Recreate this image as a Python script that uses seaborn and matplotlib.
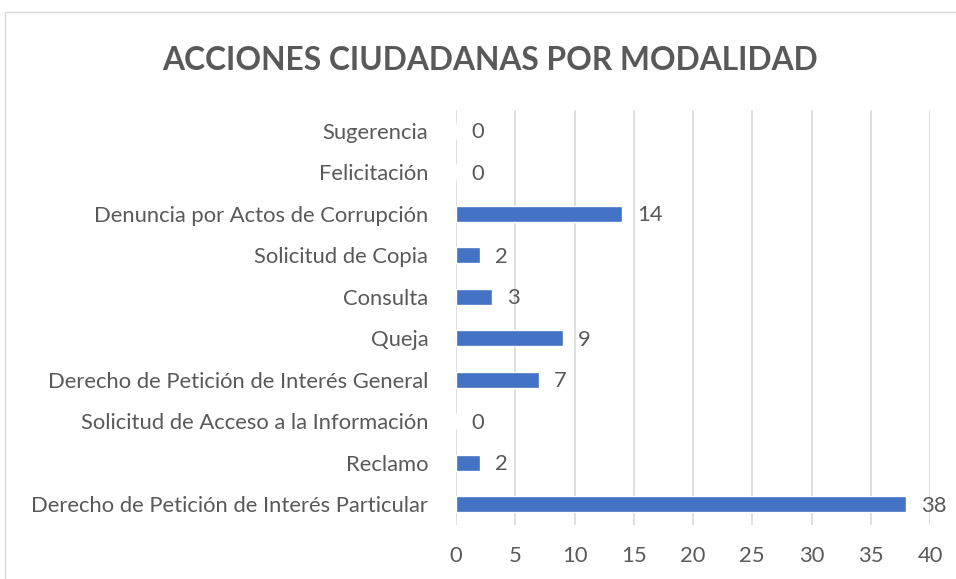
import matplotlib
matplotlib.use("Agg")
import matplotlib.pyplot as plt
import matplotlib.patches as mpatches
import pandas as pd
import seaborn as sns

categories = [
    "Sugerencia",
    "Felicitación",
    "Denuncia por Actos de Corrupción",
    "Solicitud de Copia",
    "Consulta",
    "Queja",
    "Derecho de Petición de Interés General",
    "Solicitud de Acceso a la Información",
    "Reclamo",
    "Derecho de Petición de Interés Particular",
]
counts = [0, 0, 14, 2, 3, 9, 7, 0, 2, 38]
x_ticks = [0, 5, 10, 15, 20, 25, 30, 35, 40]

BAR_COLOR = "#4472C4"
TEXT_COLOR = "#595959"
GRID_COLOR = "#D9D9D9"

sns.set_theme(style="white")
plt.rcParams["font.family"] = ["Lato", "DejaVu Sans"]

frame = pd.DataFrame({"modalidad": categories, "cantidad": counts})

fig = plt.figure(figsize=(9.56, 5.79), dpi=100)
ax = fig.add_axes([456 / 956, 1 - 525 / 579, (930 - 456) / 956, (525 - 110) / 579])

sns.barplot(data=frame, x="cantidad", y="modalidad", order=categories,
            orient="h", color=BAR_COLOR, width=0.38, saturation=1, ax=ax)

# etiquetas de valor al final de cada barra
for idx, value in enumerate(counts):
    ax.annotate(str(value), xy=(value, idx), xytext=(11, -1), textcoords="offset points",
                ha="left", va="center", fontsize=15.8, color=TEXT_COLOR)

ax.set_xlim(0, 40)
ax.set_xticks(x_ticks)
ax.grid(axis="x", color=GRID_COLOR, linewidth=1.2)
ax.set_axisbelow(True)
for spine in ax.spines.values():
    spine.set_visible(False)
ax.set_xlabel("")
ax.set_ylabel("")
ax.tick_params(axis="both", length=0, labelsize=15.8, labelcolor=TEXT_COLOR)
ax.tick_params(axis="y", pad=20)
ax.tick_params(axis="x", pad=15)

fig.text(490 / 956, 1 - 60 / 579, "ACCIONES CIUDADANAS POR MODALIDAD", ha="center", va="center",
         fontsize=22.9, fontweight="bold", color=TEXT_COLOR)

border = mpatches.Rectangle((5 / 956, -0.1), 1.0, (579 - 12) / 579 + 0.1, transform=fig.transFigure,
                            fill=False, edgecolor=GRID_COLOR, linewidth=1)
fig.patches.append(border)

fig.savefig("out.png", dpi=100)
